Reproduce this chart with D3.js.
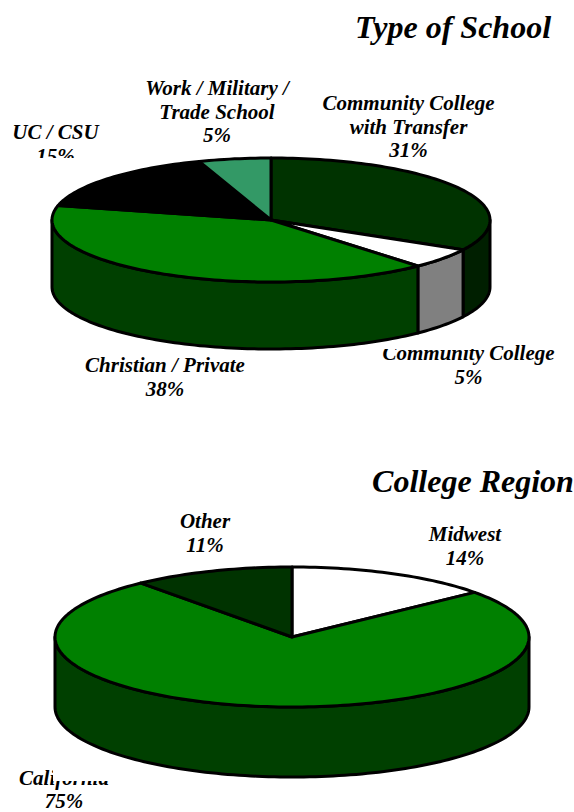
<!DOCTYPE html>
<html><head><meta charset="utf-8">
<script src="https://cdn.jsdelivr.net/npm/d3@7"></script>
<style>html,body{margin:0;padding:0;background:#fff}svg{display:block}
text{font-family:"Liberation Serif","Times New Roman",serif;font-weight:bold;font-style:italic;fill:#000}</style>
</head><body><svg id="c" width="574" height="812"></svg>
<script>
const schoolCategories = [["Community College","with Transfer"],["Community College"],["Christian / Private"],["UC / CSU"],["Work / Military /","Trade School"]];
const schoolValues = [31,5,38,15,5];
const schoolTop = ["#003300","#ffffff","#008000","#000000","#339966"];
const schoolSide = ["#001f00","#808080","#004000","#000000","#1f5c3d"];
const regionCategories = [["Midwest"],["California"],["Other"]];
const regionValues = [14,75,11];
const regionTop = ["#ffffff","#008000","#003300"];
const regionSide = ["#808080","#004000","#001f00"];

const svg = d3.select("#c");
const defs = svg.append("defs");
function clip(id, rects){
  const c = defs.append("clipPath").attr("id",id);
  rects.forEach(r=>c.append("rect").attr("x",r[0]).attr("y",r[1]).attr("width",r[2]).attr("height",r[3]));
}
clip("cUC",[[0,100,300,58]]);
clip("cCC",[[486,330,88,70],[0,349,574,60]]);
clip("cCA",[[0,740,53,72],[0,781,300,31]]);

function drawPie(o){
  const pieGen = d3.pie().sort(null).value(d=>d)(o.values);
  const px = a=>o.cx+o.rx*Math.sin(a), py = (a,dz=0)=>o.cy-o.ry*Math.cos(a)+dz;
  const g = svg.append("g");
  const front0=Math.PI/2, front1=3*Math.PI/2;
  const arcPts=(a0,a1,dz)=>{
    const n=Math.max(2,Math.ceil(Math.abs(a1-a0)*40));
    return d3.range(n+1).map(i=>{const a=a0+(a1-a0)*i/n;return [px(a),py(a,dz)];});
  };
  const line=d3.line();
  pieGen.forEach((s,i)=>{
    const a0=Math.max(s.startAngle,front0), a1=Math.min(s.endAngle,front1);
    if(a1<=a0) return;
    const pts=arcPts(a0,a1,0).concat(arcPts(a1,a0,o.depth));
    g.append("path").attr("d",line(pts)+"Z").attr("fill",o.side[i])
     .attr("stroke","#000").attr("stroke-width",o.sw).attr("stroke-linejoin","round");
  });
  pieGen.forEach((s,i)=>{
    const pts=[[o.cx,o.cy]].concat(arcPts(s.startAngle,s.endAngle,0));
    g.append("path").attr("d",line(pts)+"Z").attr("fill",o.top[i])
     .attr("stroke","#000").attr("stroke-width",o.sw).attr("stroke-linejoin","round");
  });
}
function label(lines,pct,x,y,lh,clipId,fs){
  const t=svg.append("text").attr("text-anchor","middle").attr("font-size",fs);
  if(clipId) t.attr("clip-path",`url(#${clipId})`);
  lines.concat([pct+"%"]).forEach((l,i)=>t.append("tspan").attr("x",x).attr("y",y+i*lh).text(l));
}
svg.append("text").attr("x",453).attr("y",38).attr("text-anchor","middle").attr("font-size",32).text("Type of School");
svg.append("text").attr("x",473).attr("y",492).attr("text-anchor","middle").attr("font-size",32).text("College Region");

drawPie({values:schoolValues,top:schoolTop,side:schoolSide,cx:271,cy:220,rx:219,ry:62,depth:67,sw:3});
drawPie({values:regionValues,top:regionTop,side:regionSide,cx:292,cy:637,rx:237,ry:70,depth:70,sw:3});

label(schoolCategories[0],schoolValues[0],408.5,110,23.7,null,21);
label(schoolCategories[1],schoolValues[1],468.5,360,24,"cCC",21);
label(schoolCategories[2],schoolValues[2],165,372,24,null,21);
label(schoolCategories[3],schoolValues[3],55.5,139,23.7,"cUC",21);
label(schoolCategories[4],schoolValues[4],217,95,23.7,null,21);
label(regionCategories[0],regionValues[0],465,541,23.7,null,21);
label(regionCategories[1],regionValues[1],64,784.5,23.7,"cCA",21);
label(regionCategories[2],regionValues[2],205,528,23.7,null,21);
</script></body></html>
